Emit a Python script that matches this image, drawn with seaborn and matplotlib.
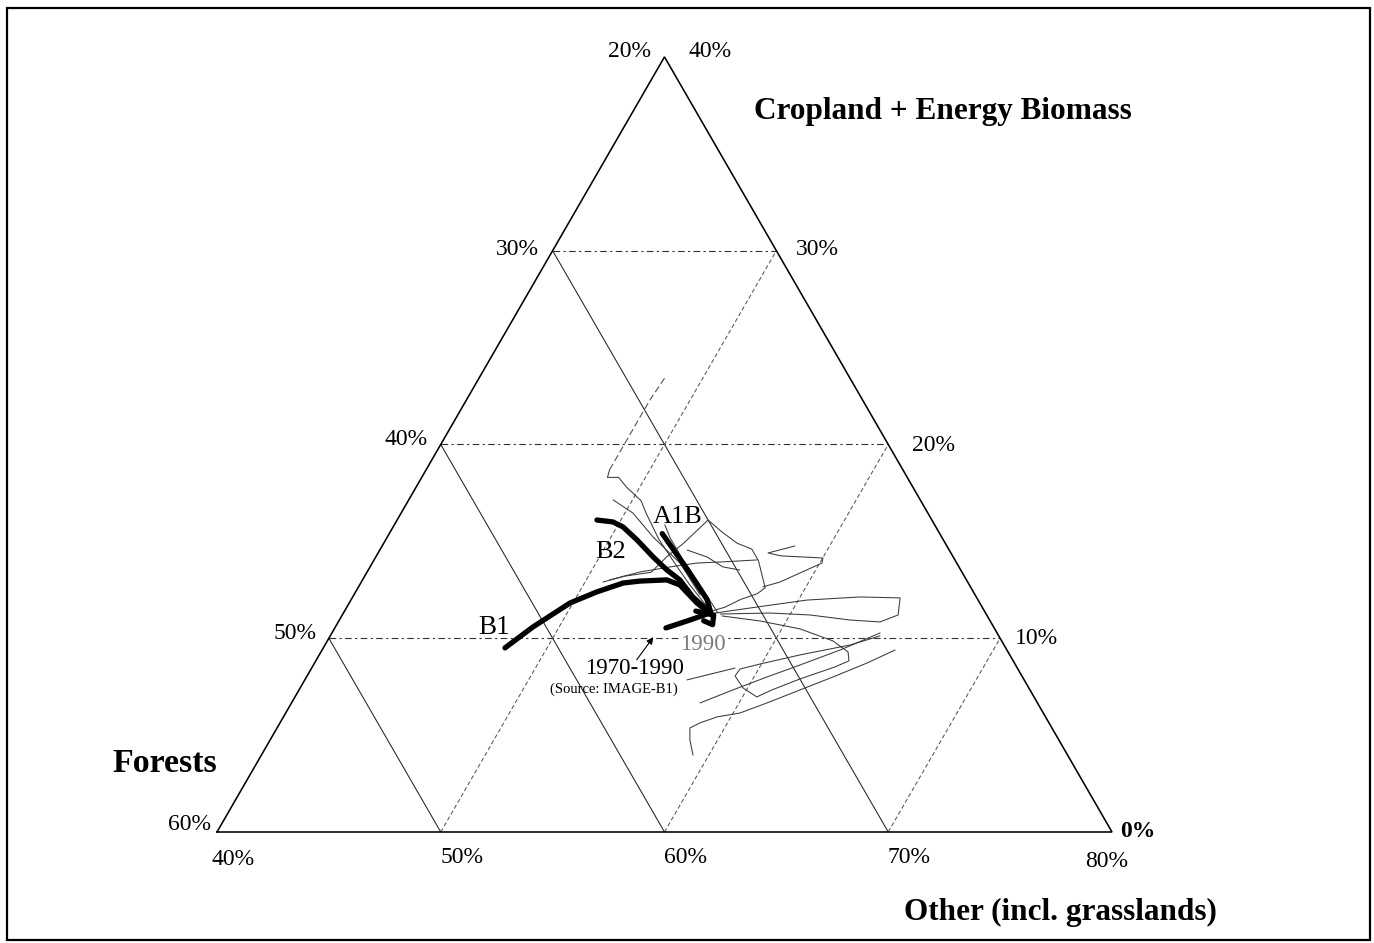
import matplotlib
matplotlib.use("Agg")
import matplotlib.pyplot as plt
import matplotlib.patches as mpatches
import numpy as np
import pandas as pd
import seaborn as sns

# ternary window: cropland 0-40 %, forests 20-60 %, other 40-80 %
crop_ticks = [40, 30, 20, 10, 0]
forest_ticks = [20, 30, 40, 50, 60]
other_ticks = [40, 50, 60, 70, 80]
grid_crop = [10, 20, 30]
grid_forest = [30, 40, 50]
grid_other = [50, 60, 70]

# thick scenario paths (cropland %, forests %), starting from 1990
a1b_crop = [11.2, 12.0, 13.5, 15.4]
a1b_forest = [32.3, 32.1, 32.2, 32.4]
b2_crop = [11.46, 12.13, 13.01, 13.52, 14.19, 15.07, 15.74, 16.00, 16.10]
b2_forest = [32.37, 32.67, 32.81, 33.13, 33.41, 33.69, 33.98, 34.30, 34.97]
b1_crop = [11.35, 11.82, 12.75, 13.01, 12.95, 12.85, 12.39, 11.82, 10.58, 9.50]
b1_forest = [32.38, 32.64, 32.94, 33.39, 34.61, 35.42, 36.83, 38.31, 40.59, 42.38]
hist_crop = [10.53, 10.94, 11.25]
hist_forest = [34.67, 33.39, 32.47]
knot_crop = [11.4, 11.2, 10.7, 10.9]
knot_forest = [32.9, 32.2, 32.5, 32.8]

# thin paths of the other runs
t1_crop = [11.7, 12.8, 13.8, 15.1, 16.4, 17.1, 17.8, 18.3, 18.3, 18.7]
t1_forest = [32.3, 32.5, 32.6, 32.7, 32.6, 32.5, 32.8, 32.9, 33.4, 33.1]
t1b_crop = [18.7, 19.8, 21.1, 22.3, 23.5]
t1b_forest = [33.1, 32.0, 30.7, 29.5, 28.2]
t2_crop = [12.9, 13.2, 13.4, 14.2, 14.9, 16.1, 15.5, 14.9, 14.6, 14.0, 13.3, 12.6, 12.3, 12.0, 11.6, 11.4]
t2_forest = [36.3, 35.2, 33.9, 32.8, 31.7, 30.0, 29.7, 29.3, 28.8, 28.8, 29.0, 29.2, 29.7, 30.6, 31.5, 32.2]
t3_crop = [11.30, 11.61, 11.97, 12.13, 12.08, 11.20, 10.84, 10.94, 11.20, 11.30, 11.25]
t3_forest = [32.09, 30.06, 27.64, 25.20, 23.43, 23.96, 24.95, 26.24, 27.90, 29.63, 31.89]
t4_crop = [11.15, 10.89, 10.48, 9.86, 9.29, 8.83, 8.52, 7.90, 7.33, 6.97, 7.43, 8.05, 8.41, 8.67, 9.14, 9.65, 10.12]
t4_forest = [31.86, 30.28, 28.70, 27.54, 27.15, 27.34, 28.12, 29.99, 31.54, 32.39, 32.77, 32.82, 32.42, 31.39, 29.37, 26.88, 25.31]
t5_crop = [6.66, 7.33, 8.00, 8.62, 9.39, 10.27]
t5_forest = [35.08, 33.28, 31.42, 29.63, 27.46, 25.23]
t6_crop = [7.85, 8.46]
t6_forest = [35.07, 32.62]
t7_crop = [3.97, 4.75, 5.37, 5.63, 5.94, 6.14, 6.66, 7.33, 8.00, 8.72, 9.39]
t7_forest = [36.74, 36.49, 36.18, 35.60, 34.68, 33.56, 32.09, 30.28, 28.47, 26.59, 25.00]
t8_crop = [14.76, 14.40, 14.25, 14.14, 13.88, 12.90, 12.65]
t8_forest = [26.79, 28.17, 27.68, 25.85, 26.02, 28.39, 29.28]
t9_crop = [11.30, 12.75, 14.04, 15.17, 15.85]
t9_forest = [31.96, 32.04, 32.15, 32.16, 32.06]
t10_crop = [13.01, 13.42, 13.68, 13.88, 13.94, 14.04]
t10_forest = [35.94, 34.38, 32.91, 31.61, 30.42, 28.85]
t11_crop = [14.55, 14.19, 13.68, 13.52]
t11_forest = [31.71, 31.00, 30.55, 29.87]
t12_crop = [17.14, 16.46, 15.23, 13.88, 12.23]
t12_forest = [33.73, 33.18, 32.90, 32.37, 32.29]

# arrow 1970-1990 label -> history segment
arrow_crop = [8.77, 10.17]
arrow_forest = [36.93, 35.34]


def to_xy(crop, forest):
    crop = np.asarray(crop, dtype=float)
    forest = np.asarray(forest, dtype=float)
    return 100 - forest - crop / 2, crop * np.sqrt(3) / 2


def frame(paths):
    rows = []
    for name, (c, f) in paths.items():
        x, y = to_xy(c, f)
        for i in range(len(x)):
            rows.append({"curve": name, "order": i, "x": x[i], "y": y[i]})
    return pd.DataFrame(rows)


sns.set_theme(style="white")
plt.rcParams["font.family"] = ["Liberation Serif", "DejaVu Serif"]
plt.rcParams["text.color"] = "black"

fig = plt.figure(figsize=(13.74, 9.43), dpi=100)
ax = fig.add_axes([0, 0, 1, 1])
ax.set_xlim(30.302, 91.710)
ax.set_ylim(-4.961, 37.184)
ax.axis("off")

# grid
for c in grid_crop:
    x, y = to_xy([c, c], [60 - c, 20])
    ax.plot(x, y, color="#333333", lw=0.8, ls=(0, (6, 3, 2, 3)))
for f in grid_forest:
    x, y = to_xy([60 - f, 0], [f, f])
    ax.plot(x, y, color="#222222", lw=0.75)
for o in grid_other:
    x, y = to_xy([0, 80 - o], [100 - o, 20])
    ax.plot(x, y, color="#555555", lw=0.75, ls=(0, (4, 2.5)))

# triangle
x, y = to_xy([0, 40, 0, 0], [60, 20, 20, 60])
ax.plot(x, y, color="black", lw=1.15, solid_joinstyle="miter")

thin = frame({
    "t1": (t1_crop, t1_forest), "t2": (t2_crop, t2_forest), "t3": (t3_crop, t3_forest),
    "t4": (t4_crop, t4_forest), "t5": (t5_crop, t5_forest), "t6": (t6_crop, t6_forest),
    "t7": (t7_crop, t7_forest), "t8": (t8_crop, t8_forest), "t9": (t9_crop, t9_forest),
    "t10": (t10_crop, t10_forest), "t11": (t11_crop, t11_forest), "t12": (t12_crop, t12_forest),
})
sns.lineplot(data=thin, x="x", y="y", units="curve", estimator=None, sort=False,
             color="#3a3a3a", lw=0.75, ax=ax, legend=False)
dashed = frame({"t1b": (t1b_crop, t1b_forest)})
sns.lineplot(data=dashed, x="x", y="y", units="curve", estimator=None, sort=False,
             color="#555555", lw=0.8, ls=(0, (6, 3)), ax=ax, legend=False)

thick = frame({
    "A1B": (a1b_crop, a1b_forest), "B2": (b2_crop, b2_forest), "B1": (b1_crop, b1_forest),
    "hist": (hist_crop, hist_forest), "knot": (knot_crop, knot_forest),
})
sns.lineplot(data=thick, x="x", y="y", units="curve", estimator=None, sort=False,
             color="black", lw=3.8, ax=ax, legend=False, solid_capstyle="round")

# tick labels
tick_kw = dict(textcoords="offset pixels", ha="center", va="center", fontsize=17)
left_dx = [-35, -35, -35, -34, -27]
left_dy = [5, 1, 5, 5, 7]
for f, dx, dy in zip(forest_ticks, left_dx, left_dy):
    ax.annotate(f"{f}%", to_xy(60 - f, f), xytext=(dx, dy), **tick_kw)
right_dx = [46, 41, 45, 36]
right_dy = [5, 1, -1, 0]
for c, dx, dy in zip(crop_ticks[:-1], right_dx, right_dy):
    ax.annotate(f"{c}%", to_xy(c, 20), xytext=(dx, dy), **tick_kw)
ax.annotate("0%", to_xy(0, 20), xytext=(26, 0), textcoords="offset pixels",
            ha="center", va="center", fontsize=17, fontweight="bold")
bottom_dx = [16, 21, 21, 21, -5]
bottom_dy = [-28, -26, -26, -26, -30]
for o, dx, dy in zip(other_ticks, bottom_dx, bottom_dy):
    ax.annotate(f"{o}%", to_xy(0, 100 - o), xytext=(dx, dy), **tick_kw)

# axis titles
W, H = 1374, 943
fig.text(943 / W, 1 - 111 / H, "Cropland + Energy Biomass", ha="center", va="center",
         fontsize=22.5, fontweight="bold")
fig.text(1060 / W, 1 - 912 / H, "Other (incl. grasslands)", ha="center", va="center",
         fontsize=22.5, fontweight="bold")
fig.text(165 / W, 1 - 763 / H, "Forests", ha="center", va="center",
         fontsize=24.5, fontweight="bold")

# scenario labels
fig.text(678 / W, 1 - 517 / H, "A1B", ha="center", va="center", fontsize=19)
fig.text(611 / W, 1 - 552 / H, "B2", ha="center", va="center", fontsize=19)
fig.text(494 / W, 1 - 628 / H, "B1", ha="center", va="center", fontsize=19.5)
fig.text(703 / W, 1 - 645 / H, "1990", ha="center", va="center", fontsize=16.5,
         color="#7a7a7a", bbox=dict(facecolor="white", edgecolor="none", pad=0.5))
fig.text(634 / W, 1 - 668 / H, "1970-1990", ha="center", va="center", fontsize=16.5)
fig.text(614 / W, 1 - 689 / H, "(Source: IMAGE-B1)", ha="center", va="center", fontsize=10.5)

ax.annotate("", xy=to_xy(arrow_crop[1], arrow_forest[1]), xytext=to_xy(arrow_crop[0], arrow_forest[0]),
            arrowprops=dict(arrowstyle="-|>", color="black", lw=0.8, mutation_scale=10))

# page frame
fig.patches.append(mpatches.Rectangle((7 / W, 3 / H), 1363 / W, 932 / H, transform=fig.transFigure,
                                      fill=False, edgecolor="black", lw=1.6))

fig.savefig("out.png", dpi=100, facecolor="white")
